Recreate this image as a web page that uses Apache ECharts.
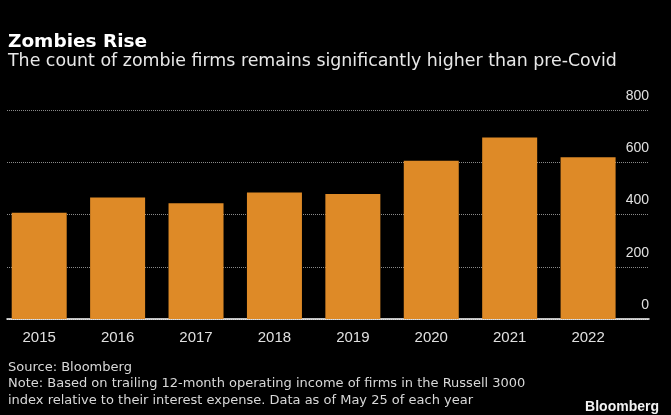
<html>
	<head>
		<script src="https://cdn.jsdelivr.net/npm/echarts@6/dist/echarts.min.js"></script>
		<style>
			body { margin: 0; background: #000; }
		</style>
	</head>
<body>
	<div id="main" style="width: 671px;height:415px;"></div>
	<script type="text/javascript">
		// zombie firm counts in the Russell 3000, by year
		var years = ['2015', '2016', '2017', '2018', '2019', '2020', '2021', '2022'];
		var zombieCounts = [407, 465, 443, 484, 478, 606, 695, 619];
		var yMin = 0, yMax = 800, yStep = 200;

		var font = '"Liberation Sans", Arial, sans-serif';
		var textFont = '"DejaVu Sans", sans-serif';
		var myChart = echarts.init(document.getElementById('main'));

		var option = {
			backgroundColor: '#000',
			animation: false,
			textStyle: { fontFamily: font },
			title: [
				{
					text: 'Zombies Rise', left: 8, top: 23, padding: 0,
					textStyle: { color: '#fff', fontSize: 18.5, fontWeight: 'bold', fontFamily: textFont }
				},
				{
					text: 'The count of zombie firms remains significantly higher than pre-Covid', left: 8, top: 44, padding: 0,
					textStyle: { color: '#e8e8e8', fontSize: 17.4, fontWeight: 'normal', fontFamily: textFont }
				},
				{
					text: 'Source: Bloomberg\nNote: Based on trailing 12-month operating income of firms in the Russell 3000\nindex relative to their interest expense. Data as of May 25 of each year',
					left: 8, top: 359, padding: 0,
					textStyle: { color: '#d8d8d8', fontSize: 13, fontWeight: 'normal', lineHeight: 16.5, fontFamily: textFont }
				},
				{
					text: 'Bloomberg', right: 12, top: 395, padding: 0,
					textStyle: { color: '#f2f2f2', fontSize: 14, fontWeight: 'bold', fontFamily: font }
				}
			],
			grid: [
				// grid lines + value axis, runs past the last bar
				{ left: 7, top: 110, width: 642, height: 209 },
				// bars
				{ left: -4.7, top: 110, width: 632, height: 209 }
			],
			xAxis: [
				{
					gridIndex: 0, type: 'category', data: years,
					axisLine: { lineStyle: { color: '#fff', width: 1.5 } },
					axisTick: { show: false },
					axisLabel: { show: false }
				},
				{
					gridIndex: 1, type: 'category', data: years,
					axisLine: { show: false },
					axisTick: { show: false },
					axisLabel: { color: '#e0e0e0', fontSize: 15, margin: 6, fontFamily: font }
				}
			],
			yAxis: [
				{
					gridIndex: 0, type: 'value', position: 'right',
					min: yMin, max: yMax, interval: yStep,
					axisLine: { show: false },
					axisTick: { show: false },
					splitLine: { lineStyle: { color: '#8a8a8a', type: 'dotted', width: 1 } },
					axisLabel: {
						inside: true, margin: 0, color: '#e0e0e0', fontSize: 14,
						verticalAlign: 'bottom', padding: [0, 0, 2, 0], fontFamily: font
					}
				},
				{
					gridIndex: 1, type: 'value', min: yMin, max: yMax, interval: yStep, show: false
				}
			],
			series: [
				{
					name: 'Zombie firms',
					type: 'bar',
					xAxisIndex: 1,
					yAxisIndex: 1,
					barWidth: 55,
					data: zombieCounts,
					itemStyle: { color: '#de8a27' }
				}
			]
		};

		myChart.setOption(option);
	</script>
</body>
</html>
